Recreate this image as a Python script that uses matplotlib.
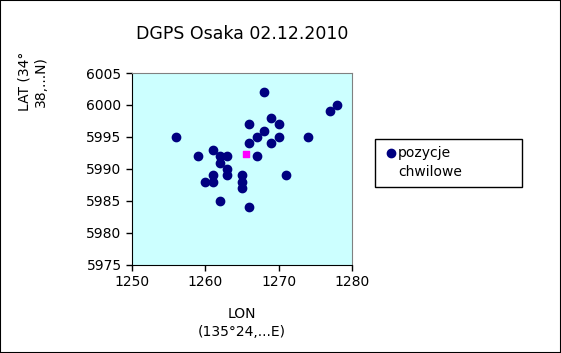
import matplotlib
matplotlib.use('Agg')
import matplotlib.pyplot as plt
from matplotlib.patches import Rectangle

# chwilowe pozycje DGPS
lon = [1268, 1278, 1277, 1269, 1266, 1270, 1268, 1267, 1270, 1274,
       1256, 1266, 1269, 1261, 1259, 1262, 1263, 1267, 1262, 1263,
       1261, 1263, 1265, 1271, 1260, 1261, 1265, 1265, 1262, 1266]
lat = [6002, 6000, 5999, 5998, 5997, 5997, 5996, 5995, 5995, 5995,
       5995, 5994, 5994, 5993, 5992, 5992, 5992, 5992, 5991, 5990,
       5989, 5989, 5989, 5989, 5988, 5988, 5988, 5987, 5985, 5984]
mean_lon = [1265.6]
mean_lat = [5992.3]

fig = plt.figure(figsize=(5.61, 3.53), dpi=100)
fig.patches.append(Rectangle((0, 0), 1, 1, transform=fig.transFigure,
                             fill=False, edgecolor='black', linewidth=1.5))

ax = fig.add_axes([0.2353, 0.2493, 0.3922, 0.5439])
ax.set_facecolor('#ccffff')
ax.scatter(lon, lat, s=36, c='#000080', marker='o', zorder=3)
ax.scatter(mean_lon, mean_lat, s=25, c='#ff00ff', marker='s', zorder=3)

ax.set_xlim(1250, 1280)
ax.set_ylim(5975, 6005)
ax.set_xticks([1250, 1260, 1270, 1280])
ax.set_yticks(range(5975, 6006, 5))
ax.tick_params(direction='out', length=4, width=1, labelsize=10, colors='black')
for s in ['top', 'right']:
    ax.spines[s].set_color('#808080')
for s in ['left', 'bottom']:
    ax.spines[s].set_color('black')

fig.text(0.431, 0.905, 'DGPS Osaka 02.12.2010', ha='center', va='center', fontsize=12.5)
fig.text(0.431, 0.085, 'LON\n(135°24,...E)', ha='center', va='center', fontsize=10,
         linespacing=1.3)
fig.text(0.058, 0.77, 'LAT (34°\n38,...N)', ha='center', va='center', fontsize=10,
         rotation=90, linespacing=1.2)

# legenda
fig.patches.append(Rectangle((375 / 561, 1 - 187 / 353), 147 / 561, 48 / 353,
                             transform=fig.transFigure, fill=False,
                             edgecolor='black', linewidth=1))
fig.lines.append(plt.Line2D([391 / 561], [1 - 153 / 353], transform=fig.transFigure,
                            marker='o', markersize=6, color='#000080', linestyle='none'))
fig.text(398 / 561, 1 - 153 / 353, 'pozycje', ha='left', va='center', fontsize=10)
fig.text(398 / 561, 1 - 172 / 353, 'chwilowe', ha='left', va='center', fontsize=10)

fig.savefig('out.png', dpi=100)
